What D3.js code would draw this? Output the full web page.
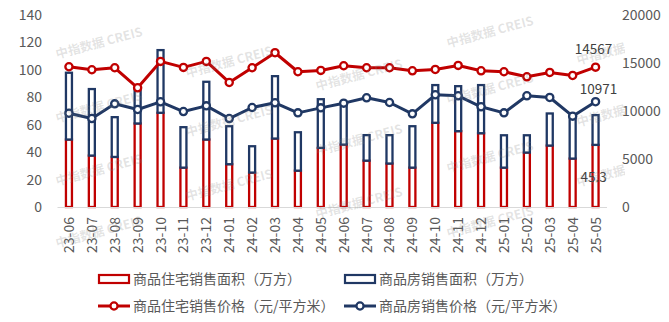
<!DOCTYPE html>
<html><head><meta charset="utf-8">
<script src="https://cdn.jsdelivr.net/npm/d3@7"></script>
<style>
html,body{margin:0;padding:0;background:#fff;}
svg{display:block;font-family:"Noto Sans CJK SC","Noto Sans",sans-serif;}
</style></head>
<body><svg id="chart" width="669" height="322"></svg>
<script>
const months = ["23-06","23-07","23-08","23-09","23-10","23-11","23-12","24-01","24-02","24-03","24-04","24-05","24-06","24-07","24-08","24-09","24-10","24-11","24-12","25-01","25-02","25-03","25-04","25-05"];
const resArea = [49.2,37.5,36.5,60.9,68.7,28.7,49.2,31.2,25.1,49.9,26.5,43.1,45.5,33.8,31.7,28.7,61.4,55.3,53.8,28.7,39.7,44.8,35.3,45.3];
const totalArea = [97.9,86.0,65.5,86.6,114.4,58.2,91.3,58.9,44.3,95.4,54.5,78.6,74.0,52.4,52.4,58.9,88.9,88.1,88.9,52.3,52.3,68.2,65.8,67.0];
const resPrice = [14610,14297,14504,12418,15166,14540,15166,12976,14504,16070,14088,14227,14713,14504,14504,14191,14330,14748,14191,14087,13565,14017,13704,14567];
const totalPrice = [9772,9216,10747,10155,10957,9946,10538,9216,10364,10853,9807,10329,10817,11374,10887,9704,11687,11583,10435,9809,11583,11409,9461,10971];
const leftTicks = [0,20,40,60,80,100,120,140];
const rightTicks = [0,5000,10000,15000,20000];
const seriesNames = ["商品住宅销售面积（万方）","商品房销售面积（万方）","商品住宅销售价格（元/平方米）","商品房销售价格（元/平方米）"];
const watermarkText = "中指数据 CREIS";

const RED = "#C00000", BLUE = "#203864", TXT = "#595959";
const svg = d3.select("#chart");

const x = d3.scaleBand().domain(months).range([57.5, 607]).paddingInner(0).paddingOuter(0);
const yL = d3.scaleLinear().domain([0,140]).range([207,15]);
const yR = d3.scaleLinear().domain([0,20000]).range([207,15]);
const cx = d => x(d) + x.bandwidth()/2;
const barW = 6;

// bars
const g = svg.append("g");
g.selectAll("rect.res").data(months).join("rect")
  .attr("x", d => cx(d) - barW/2).attr("width", barW)
  .attr("y", (d,i) => yL(resArea[i])).attr("height", (d,i) => yL(0) - yL(resArea[i]))
  .attr("fill","#fff").attr("stroke",RED).attr("stroke-width",2.3);
g.selectAll("rect.tot").data(months).join("rect")
  .attr("x", d => cx(d) - barW/2).attr("width", barW)
  .attr("y", (d,i) => yL(totalArea[i])).attr("height", (d,i) => yL(resArea[i]) - yL(totalArea[i]))
  .attr("fill","#fff").attr("stroke",BLUE).attr("stroke-width",2.3);

// x axis line
svg.append("line").attr("x1",57.5).attr("x2",607).attr("y1",yL(0)+0.5).attr("y2",yL(0)+0.5)
  .attr("stroke","#d9d9d9").attr("stroke-width",1);

// lines
function drawLine(vals, color){
  const line = d3.line().x((d,i)=>cx(months[i])).y(d=>yR(d));
  svg.append("path").datum(vals).attr("d",line).attr("fill","none")
    .attr("stroke",color).attr("stroke-width",3).attr("stroke-linejoin","round");
  svg.append("g").selectAll("circle").data(vals).join("circle")
    .attr("cx",(d,i)=>cx(months[i])).attr("cy",d=>yR(d)).attr("r",3.6)
    .attr("fill","#fff").attr("stroke",color).attr("stroke-width",2.3);
}
drawLine(totalPrice, BLUE);
drawLine(resPrice, RED);

// axes labels
svg.append("g").selectAll("text").data(leftTicks).join("text")
  .attr("x",42).attr("y",d=>yL(d)).attr("dy","0.36em").attr("text-anchor","end")
  .attr("font-size",14).attr("fill",TXT).text(d=>d);
svg.append("g").selectAll("text").data(rightTicks).join("text")
  .attr("x",622).attr("y",d=>yR(d)).attr("dy","0.36em").attr("text-anchor","start")
  .attr("font-size",14).attr("fill",TXT).text(d=>d);
svg.append("g").selectAll("text").data(months).join("text")
  .attr("transform",d=>`translate(${cx(d)+5},217) rotate(-90)`)
  .attr("text-anchor","end").attr("font-size",14).attr("fill",TXT).text(d=>d);

// data labels (last point)
const last = months.length-1, lm = months[last];
svg.append("text").attr("x",cx(lm)-2).attr("y",yR(resPrice[last])-13).attr("text-anchor","middle")
  .attr("font-size",13.5).attr("fill","#404040").text(resPrice[last]);
svg.append("text").attr("x",cx(lm)+3).attr("y",yR(totalPrice[last])-8).attr("text-anchor","middle")
  .attr("font-size",13.5).attr("fill","#404040").text(totalPrice[last]);
svg.append("text").attr("x",cx(lm)-2).attr("y",yL(resArea[last])+37).attr("text-anchor","middle")
  .attr("font-size",13.5).attr("fill","#404040").text(resArea[last]);

// legend
const lg = svg.append("g").attr("font-size",14).attr("fill",TXT);
const legendItems = [
  {name:seriesNames[0], color:RED, type:"rect", lx:99, ly:279},
  {name:seriesNames[1], color:BLUE, type:"rect", lx:345, ly:279},
  {name:seriesNames[2], color:RED, type:"line", lx:99, ly:306},
  {name:seriesNames[3], color:BLUE, type:"line", lx:345, ly:306}
];
legendItems.forEach(it=>{
  if(it.type==="rect"){
    lg.append("rect").attr("x",it.lx).attr("y",it.ly-4).attr("width",30).attr("height",8)
      .attr("fill","#fff").attr("stroke",it.color).attr("stroke-width",2.2);
  } else {
    lg.append("line").attr("x1",it.lx-1).attr("x2",it.lx+31).attr("y1",it.ly).attr("y2",it.ly)
      .attr("stroke",it.color).attr("stroke-width",3);
    lg.append("circle").attr("cx",it.lx+15).attr("cy",it.ly).attr("r",3.6)
      .attr("fill","#fff").attr("stroke",it.color).attr("stroke-width",2.3);
  }
  lg.append("text").attr("x",it.lx+34).attr("y",it.ly).attr("dy","0.36em").text(it.name);
});

// watermark
const wmPos = [[99,43],[99,107],[99,170],[99,232],[229,62],[229,121],[229,185],[359,75],[359,140],[359,203],[490,32],[490,89],[490,157],[490,222],[620,49],[620,111],[620,171]];
svg.append("clipPath").attr("id","wmclip").append("rect").attr("x",0).attr("y",0).attr("width",625).attr("height",322);
svg.append("g").attr("clip-path","url(#wmclip)").selectAll("text").data(wmPos).join("text")
  .attr("transform",d=>`translate(${d[0]},${d[1]}) rotate(-15)`)
  .attr("text-anchor","middle").attr("dy","0.35em").attr("font-size",12.5).attr("font-weight","bold")
  .attr("fill","#7f7f7f").attr("fill-opacity",0.22).text(watermarkText);
</script></body></html>
